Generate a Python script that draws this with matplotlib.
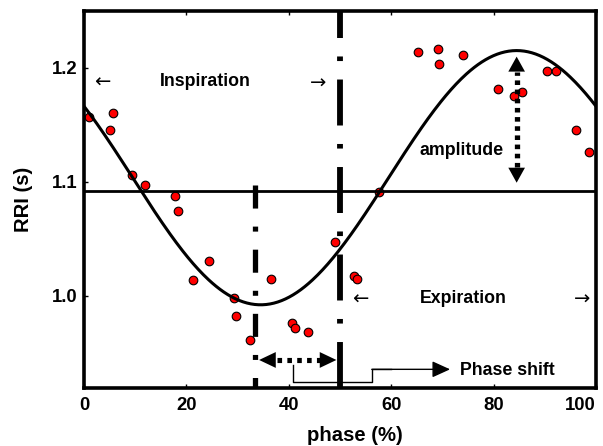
import numpy as np
import matplotlib.pyplot as plt
from matplotlib.patches import FancyArrowPatch

plt.rcParams['font.family'] = ['Liberation Sans', 'DejaVu Sans']
plt.rcParams['font.weight'] = 'bold'
plt.rcParams['axes.labelweight'] = 'bold'
plt.rcParams['lines.scale_dashes'] = False

# measured RR intervals over the respiratory cycle
phase = [1.0, 5.1, 5.7, 9.4, 11.9, 17.8, 18.3, 21.2, 24.4, 29.3, 29.7, 32.4,
         36.5, 40.6, 41.2, 43.8, 49.0, 52.7, 53.3, 57.7, 65.2, 69.1, 69.3,
         74.1, 80.8, 84.0, 85.5, 90.5, 92.2, 96.1, 98.7]
rri = [1.157, 1.145, 1.160, 1.106, 1.097, 1.087, 1.074, 1.014, 1.030, 0.998,
       0.982, 0.961, 1.015, 0.976, 0.972, 0.968, 1.047, 1.017, 1.015, 1.091,
       1.214, 1.216, 1.203, 1.211, 1.181, 1.175, 1.179, 1.197, 1.197, 1.145,
       1.126]

# cosinor fit
mesor = 1.1035
amplitude = 0.1115
acrophase = 84.5
period = 100.0

mean_rri = 1.092
trough = 33.4
midpoint = 50.0

xticks = [0, 20, 40, 60, 80, 100]
yticks = [1.0, 1.1, 1.2]
ytick_labels = ['1.0', '1.1', '1.2']

fig = plt.figure(figsize=(6.03, 4.46), dpi=100)
ax = fig.add_axes([0.1393, 0.1300, 0.8491, 0.8453])

ax.set_xlim(0, 100)
ax.set_ylim(0.919, 1.2497)

for s in ax.spines.values():
    s.set_linewidth(2.6)

# data and fit
xx = np.linspace(0, 100, 400)
fit = mesor + amplitude * np.cos(2 * np.pi * (xx - acrophase) / period)
ax.plot(phase, rri, 'o', ms=6.2, mfc='red', mec='k', mew=0.8, zorder=2)
ax.axhline(mean_rri, color='k', lw=2.0, zorder=2.5)
ax.plot(xx, fit, color='k', lw=2.2, zorder=3)

# dash-dot markers: trough of the fit and mid cycle
ax.axvline(midpoint, color='k', lw=4.2, dashes=(33.1, 13.3, 3.3, 13.3), zorder=4)
ax.plot([trough, trough], [1.0971, 0.919], color='k', lw=3.8,
        dashes=(16.6, 13.0, 3.6, 13.0), zorder=4)

# phase shift dotted double arrow
ax.add_patch(FancyArrowPatch((34.2, 0.9436), (49.3, 0.9436),
                             arrowstyle='<|-|>,head_length=12,head_width=5.7',
                             mutation_scale=1, lw=0, color='k',
                             shrinkA=0, shrinkB=0, zorder=5))
ax.plot([37.6, 46.0], [0.9436, 0.9436], color='k', lw=3.7,
        dashes=(3.3, 3.8), zorder=5)

# amplitude dotted double arrow
ax.add_patch(FancyArrowPatch((acrophase, 1.0991), (acrophase, 1.2097),
                             arrowstyle='<|-|>,head_length=10.8,head_width=6',
                             mutation_scale=1, lw=0, color='k',
                             shrinkA=0, shrinkB=0, zorder=5))
ax.plot([acrophase, acrophase], [1.1125, 1.1965], color='k', lw=3.8,
        dashes=(3.3, 3.3), zorder=5)

# connector to "Phase shift"
ax.plot([40.9, 40.9, 56.2, 56.2, 60.0], [0.9390, 0.9246, 0.9246, 0.9354, 0.9354],
        color='k', lw=1.0, zorder=5)
ax.add_patch(FancyArrowPatch((56.2, 0.9354), (71.5, 0.9354),
                             arrowstyle='-|>,head_length=11,head_width=5',
                             mutation_scale=1, lw=1.0, color='k',
                             shrinkA=0, shrinkB=0, zorder=5))

# labels
ax.text(23.6, 1.184, 'Inspiration', ha='center', va='baseline', fontsize=12.8)
ax.text(74.1, 0.9939, 'Expiration', ha='center', va='baseline', fontsize=12.8)
ax.text(73.7, 1.1234, 'amplitude', ha='center', va='baseline', fontsize=12.8)
ax.text(73.4, 0.9304, 'Phase shift', ha='left', va='baseline', fontsize=12.8)

arrow_kw = dict(family='DejaVu Sans', weight='normal', fontsize=14,
                ha='center', va='center')
ax.text(3.5, 1.1875, '\u2190', **arrow_kw)
ax.text(45.8, 1.1860, '\u2192', **arrow_kw)
ax.text(53.9, 0.9970, '\u2190', **arrow_kw)
ax.text(97.2, 0.9970, '\u2192', **arrow_kw)

ax.set_xticks(xticks)
ax.set_yticks(yticks)
ax.set_yticklabels(ytick_labels)
ax.tick_params(direction='in', length=2.9, width=1.0, labelsize=13.3)
ax.tick_params(axis='x', top=True, pad=6.5)
ax.tick_params(axis='y', pad=4.5)
# last x label pulled inside the figure, as in the original
ax.get_xticklabels()[-1].set_horizontalalignment('right')

ax.set_xlabel('phase (%)', fontsize=14.6)
ax.xaxis.set_label_coords(0.529, -0.100)
ax.set_ylabel('RRI (s)', fontsize=14.6)
ax.yaxis.set_label_coords(-0.099, 0.5)

fig.savefig('out.png', dpi=100)
